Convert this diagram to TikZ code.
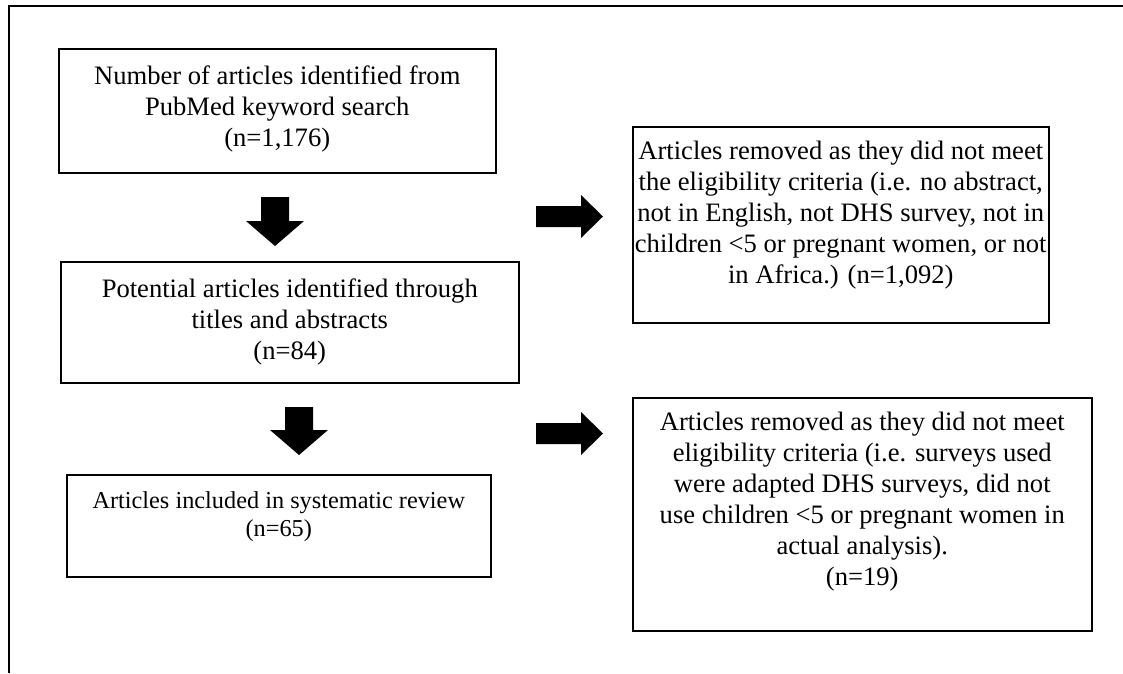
\documentclass[tikz,border=0pt]{standalone}
\usepackage{fontspec}
\setmainfont{Liberation Serif}
\begin{document}
\begin{tikzpicture}[x=1pt,y=-1pt,
  box/.style={draw=black, line width=1.5pt, rectangle, inner sep=0pt, anchor=north west},
  txt/.style={align=center, inner sep=0pt, anchor=north, font=\fontsize{26.6}{31}\selectfont},
  smalltxt/.style={txt, font=\fontsize{24.3}{28.5}\selectfont},
  blockarrow/.style={fill=black, draw=none}]
\useasboundingbox (0,0) rectangle (1123,673);
% outer frame
\draw[line width=2.2pt] (9,673) -- (9,6) -- (1123,6);
% boxes
\node[box, minimum width=437pt, minimum height=124pt] (b1) at (58,48) {};
\node[box, minimum width=458pt, minimum height=121pt] (b2) at (60,261) {};
\node[box, minimum width=424pt, minimum height=102pt] (b3) at (66,474) {};
\node[box, minimum width=416pt, minimum height=196pt] (r1) at (632,126) {};
\node[box, minimum width=459pt, minimum height=233pt] (r2) at (632,397) {};
% texts
\node[txt] (t1) at ([yshift=-17.5pt]b1.north) {Number of articles identified from\\PubMed keyword search\\(n=1,176)};
\node[txt] (t2) at ([yshift=-17.5pt]b2.north) {Potential articles identified through\\titles and abstracts\\(n=84)};
\node[smalltxt] (t3) at ([yshift=-17pt]b3.north) {Articles included in systematic review\\(n=65)};
\node[txt] (t4) at ([yshift=-15pt]r1.north) {Articles removed as they did not meet\\the eligibility criteria (i.e. no abstract,\\not in English, not DHS survey, not in\\children <5 or pregnant women, or not\\in Africa.) (n=1,092)};
\node[txt] (t5) at ([yshift=-15pt]r2.north) {Articles removed as they did not meet\\eligibility criteria (i.e. surveys used\\were adapted DHS surveys, did not\\use children <5 or pregnant women in\\actual analysis).\\(n=19)};
% block arrows
\coordinate (d1) at (275,197);
\coordinate (d2) at (299,407);
\coordinate (a1) at (536,216.5);
\coordinate (a2) at (536,433.5);
\fill[blockarrow] (d1) ++(-14,0) -- ++(28,0) -- ++(0,24) -- ++(15,0) -- ++(-29,25) -- ++(-29,-25) -- ++(15,0) -- cycle;
\fill[blockarrow] (d2) ++(-14,0) -- ++(28,0) -- ++(0,23) -- ++(15,0) -- ++(-29,25) -- ++(-29,-25) -- ++(15,0) -- cycle;
\fill[blockarrow] (a1) ++(0,-10.5) -- ++(45,0) -- ++(0,-11) -- ++(22,21.5) -- ++(-22,21.5) -- ++(0,-11) -- ++(-45,0) -- cycle;
\fill[blockarrow] (a2) ++(0,-10.5) -- ++(45,0) -- ++(0,-11) -- ++(22,21.5) -- ++(-22,21.5) -- ++(0,-11) -- ++(-45,0) -- cycle;
\end{tikzpicture}
\end{document}
